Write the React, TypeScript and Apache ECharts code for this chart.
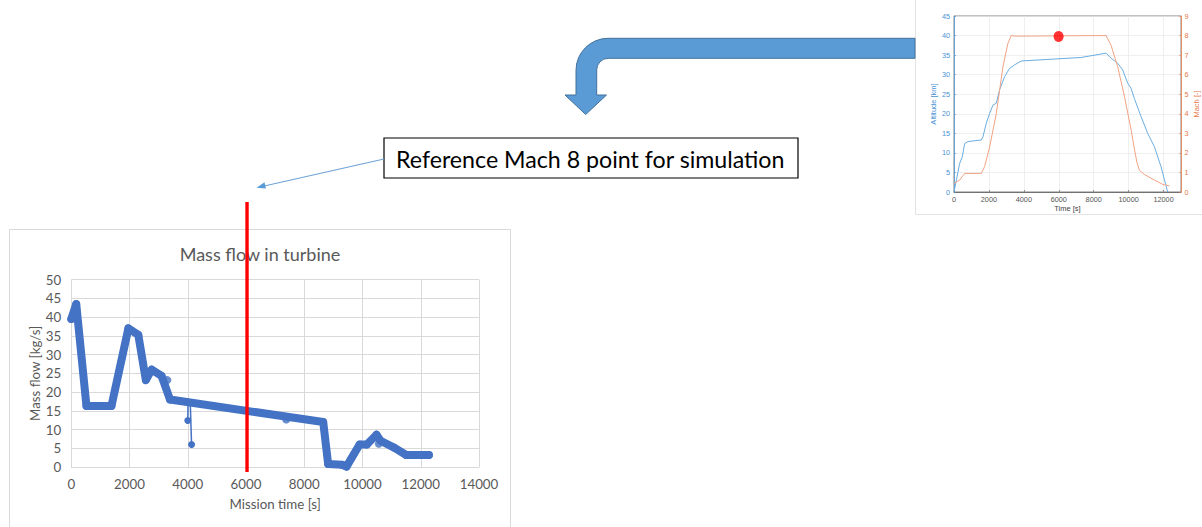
import React, { useEffect, useRef } from "react";
import * as echarts from "echarts";

// Main chart: Mass flow in turbine
const massTime = [0, 170, 520, 1380, 1960, 2300, 2560, 2760, 3100, 3390, 8650, 8820, 9300, 9450, 9900, 10150, 10480, 10620, 11100, 11500, 12280];
const massFlow = [39.5, 43.5, 16.3, 16.3, 37, 35.3, 23.2, 26, 24.3, 18, 12, 0.8, 0.6, 0.1, 6, 6, 8.6, 7, 5.1, 3.2, 3.2];
const spikeATime = [4010, 4000];
const spikeAFlow = [17.2, 12.4];
const spikeBTime = [4085, 4130];
const spikeBFlow = [17.2, 6];
const bumpTime = [3300, 7380, 10560];
const bumpFlow = [23.2, 12.7, 6.2];
const referenceTime = 6000;

// Inset: altitude / Mach vs time
const altTime = [0, 324, 476, 610, 800, 1563, 1658, 1850, 2040, 2230, 2420, 2611, 2897, 3183, 3469, 3850, 5375, 7281, 8710, 8996, 9377, 9663, 9949, 10140, 10330, 10711, 11093, 11474, 11855, 12237];
const altKm = [0, 7.3, 9, 12.4, 12.9, 13.3, 14.1, 17.6, 20.1, 22.2, 22.7, 26.1, 29.5, 31.6, 32.5, 33.5, 33.9, 34.4, 35.5, 34.2, 32.9, 31.2, 27.8, 26.5, 23.9, 19.3, 15, 11.6, 6.5, 0];
const machTime = [0, 324, 610, 1563, 1753, 2040, 2420, 2802, 3088, 3278, 3469, 8710, 8996, 9377, 9758, 10140, 10330, 10480, 10620, 10902, 11474, 11950, 12332];
const machVal = [0.44, 0.61, 0.95, 0.95, 1.3, 2.3, 4.0, 6.4, 7.6, 8.0, 7.97, 8.0, 7.5, 6.4, 4.9, 3.2, 2.2, 1.5, 1.1, 0.9, 0.61, 0.39, 0.31];
const refPointTime = [5990];
const refPointMach = [7.95];

const zip = (a: number[], b: number[]) => a.map((v, i) => [v, b[i]]);
const plain = (v: number) => String(v);

const BLUE = "#4472C4";
const TXT = "#595959";
const FONT = "Lato";

export default function App() {
  const ref = useRef<HTMLDivElement>(null);
  useEffect(() => {
    const el = ref.current!;
    echarts.graphic.registerShape(
      "bentArrow",
      echarts.graphic.extendPath(
        "M915,38.3 L608,38.3 A32,32 0 0 0 576,70.3 L576,95 L565,95 L585.7,114.5 L606.5,95 L596.7,95 L596.7,70 A11.5,11.5 0 0 1 608,58.3 L915,58.3 Z",
        {}
      ) as any
    );
    const chart = echarts.init(el, null, { renderer: "svg" });
    chart.setOption({
      animation: false,
      backgroundColor: "#fff",
      title: {
        text: "Mass flow in turbine",
        left: 255,
        top: 240,
        textAlign: "center",
        textStyle: { color: TXT, fontSize: 18, fontWeight: "normal", fontFamily: FONT },
      },
      grid: [
        { left: 71.3, top: 279.7, width: 407.7, height: 187.3 },
        { left: 954, top: 16, width: 227, height: 176, show: true, borderColor: "#666", borderWidth: 0.8, backgroundColor: "#fff" },
      ],
      xAxis: [
        {
          type: "value", gridIndex: 0, min: 0, max: 14000, interval: 2000,
          name: "Mission time [s]", nameLocation: "middle", nameGap: 30,
          nameTextStyle: { color: TXT, fontSize: 13.3, fontFamily: FONT },
          axisLine: { show: true, lineStyle: { color: "#D9D9D9" } },
          axisTick: { show: false },
          axisLabel: { color: TXT, fontSize: 13.3, fontFamily: FONT, margin: 10, formatter: plain },
          splitLine: { show: true, lineStyle: { color: "#D9D9D9", width: 1 } },
        },
        {
          type: "value", gridIndex: 1, min: 0, max: 13000, interval: 2000,
          name: "Time [s]", nameLocation: "middle", nameGap: 12,
          nameTextStyle: { color: "#444", fontSize: 7.5, fontFamily: "Liberation Sans" },
          axisLine: { show: true, lineStyle: { color: "#555", width: 0.8 } },
          axisTick: { show: true, inside: true, length: 2, lineStyle: { color: "#555", width: 0.6 } },
          axisLabel: { color: "#555", fontSize: 7.3, fontFamily: "Liberation Sans", margin: 4, showMaxLabel: false, formatter: plain },
          splitLine: { show: true, lineStyle: { color: "#E8E8E8", width: 0.7 } },
        },
      ],
      yAxis: [
        {
          type: "value", gridIndex: 0, min: 0, max: 50, interval: 5,
          name: "Mass flow [kg/s]", nameLocation: "middle", nameGap: 29,
          nameTextStyle: { color: TXT, fontSize: 13.3, fontFamily: FONT },
          axisLine: { show: false }, axisTick: { show: false },
          axisLabel: { color: TXT, fontSize: 13.3, fontFamily: FONT, margin: 10 },
          splitLine: { show: true, lineStyle: { color: "#D9D9D9", width: 1 } },
        },
        {
          type: "value", gridIndex: 1, min: 0, max: 45, interval: 5, position: "left",
          name: "Altitude [km]", nameLocation: "middle", nameGap: 14,
          nameTextStyle: { color: "#4A93D6", fontSize: 7.5, fontFamily: "Liberation Sans" },
          axisLine: { show: true, lineStyle: { color: "#4A93D6", width: 0.8 } },
          axisTick: { show: true, inside: true, length: 2, lineStyle: { color: "#4A93D6", width: 0.6 } },
          axisLabel: { color: "#4A93D6", fontSize: 7.3, fontFamily: "Liberation Sans", margin: 4 },
          splitLine: { show: true, lineStyle: { color: "#E8E8E8", width: 0.7 } },
        },
        {
          type: "value", gridIndex: 1, min: 0, max: 9, interval: 1, position: "right",
          name: "Mach [-]", nameLocation: "middle", nameGap: 11, nameRotate: 90,
          nameTextStyle: { color: "#E8794A", fontSize: 7.5, fontFamily: "Liberation Sans" },
          axisLine: { show: true, lineStyle: { color: "#E8794A", width: 0.8 } },
          axisTick: { show: true, inside: true, length: 2, lineStyle: { color: "#E8794A", width: 0.6 } },
          axisLabel: { color: "#E8794A", fontSize: 7.3, fontFamily: "Liberation Sans", margin: 3.5 },
          splitLine: { show: false },
        },
      ],
      series: [
        {
          type: "line", xAxisIndex: 0, yAxisIndex: 0, data: zip(massTime, massFlow),
          symbol: "circle", symbolSize: 8, itemStyle: { color: BLUE },
          lineStyle: { color: BLUE, width: 8, cap: "round", join: "round" }, z: 3,
        },
        {
          type: "line", xAxisIndex: 0, yAxisIndex: 0, data: zip(spikeATime, spikeAFlow),
          symbol: "circle", symbolSize: 7, itemStyle: { color: BLUE },
          lineStyle: { color: BLUE, width: 1.5 }, z: 3,
        },
        {
          type: "line", xAxisIndex: 0, yAxisIndex: 0, data: zip(spikeBTime, spikeBFlow),
          symbol: "circle", symbolSize: 7, itemStyle: { color: BLUE },
          lineStyle: { color: BLUE, width: 1.5 }, z: 3,
        },
        {
          type: "scatter", xAxisIndex: 0, yAxisIndex: 0, data: zip(bumpTime, bumpFlow),
          symbol: "circle", symbolSize: 8, itemStyle: { color: BLUE }, z: 3,
        },
        {
          type: "line", xAxisIndex: 1, yAxisIndex: 1, data: zip(altTime, altKm),
          symbol: "none", lineStyle: { color: "#6AAEE2", width: 1 },
        },
        {
          type: "line", xAxisIndex: 1, yAxisIndex: 2, data: zip(machTime, machVal),
          symbol: "none", lineStyle: { color: "#F2A283", width: 1 },
        },
        {
          type: "scatter", xAxisIndex: 1, yAxisIndex: 2, data: zip(refPointTime, refPointMach),
          symbol: "circle", symbolSize: [10, 11], itemStyle: { color: "#FF0000" }, z: 5,
        },
      ],
    });

    const redX = chart.convertToPixel({ xAxisIndex: 0 }, referenceTime) as number;
    chart.setOption({
      graphic: [
        { id: "frame", type: "rect", z: 0, silent: true, shape: { x: 9.5, y: 229.5, width: 501, height: 310 }, style: { fill: "none", stroke: "#D9D9D9", lineWidth: 1 } },
        { id: "insetFrame", type: "rect", z: 0, silent: true, shape: { x: 915.5, y: -5, width: 300, height: 219.5 }, style: { fill: "none", stroke: "#E2E2E2", lineWidth: 1 } },
        { id: "redLine", type: "line", z: 100, shape: { x1: redX + 1, y1: 202, x2: redX + 1, y2: 472 }, style: { stroke: "#FF0000", lineWidth: 3.4 } },
        { id: "bigArrow", type: "bentArrow", z: 100, x: 0, y: 0, style: { fill: "#5B9BD5", stroke: "#41719C", lineWidth: 1 } },
        { id: "box", type: "rect", z: 100, shape: { x: 384, y: 138, width: 414, height: 40 }, style: { fill: "#fff", stroke: "#000", lineWidth: 1.2 } },
        { id: "boxText", type: "text", z: 101, x: 396, y: 158.5, style: { text: "Reference Mach 8 point for simulation", fill: "#000", font: `23.2px ${FONT}`, textVerticalAlign: "middle" } },
        { id: "thinLine", type: "line", z: 100, shape: { x1: 384, y1: 159, x2: 262, y2: 186.5 }, style: { stroke: "#6FA3D6", lineWidth: 1.2 } },
        { id: "thinHead", type: "polygon", z: 100, shape: { points: [[256.5, 187.8], [264.5, 182.3], [266, 188.5]] }, style: { fill: "#5B9BD5" } },
      ],
    });
    return () => chart.dispose();
  }, []);
  return <div ref={ref} style={{ position: "fixed", left: 0, top: 0, width: 1202, height: 527 }} />;
}
